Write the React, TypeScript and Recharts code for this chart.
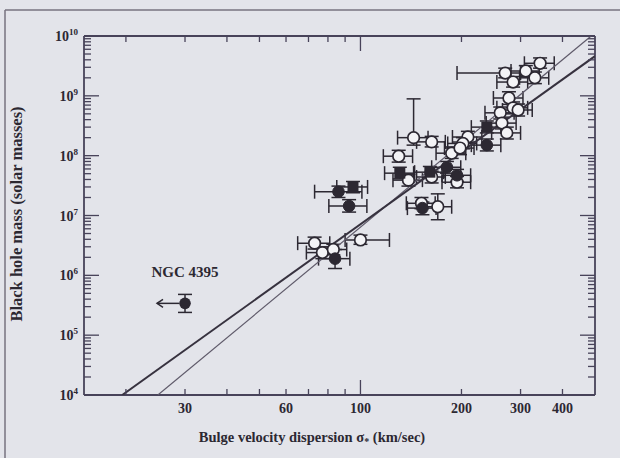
import React from 'react';
import { ScatterChart, Scatter, XAxis, YAxis, ErrorBar } from 'recharts';

// axis ticks
const xTicks = [20, 30, 40, 50, 60, 70, 80, 90, 100, 200, 300, 400];
const xTickLabels = [30, 60, 100, 200, 300, 400];
const yDecades = [1e4, 1e5, 1e6, 1e7, 1e8, 1e9, 1e10];
const yMinorSteps = [2, 3, 4, 5, 6, 7, 8, 9];

// open circles
const openSigma = [270, 311, 343, 285, 331, 277, 285, 295, 261, 264, 273, 209, 202, 144, 163, 130, 187, 198, 139, 163, 194, 152, 170, 73, 77, 83, 100];
const openMass = [2.4e9, 2.6e9, 3.5e9, 1.7e9, 2.0e9, 9.2e8, 6.3e8, 5.8e8, 5.2e8, 3.5e8, 2.4e8, 2.05e8, 1.6e8, 2.0e8, 1.7e8, 9.8e7, 1.1e8, 1.34e8, 3.9e7, 4.4e7, 3.6e7, 1.6e7, 1.4e7, 3.45e6, 2.4e6, 2.7e6, 3.9e6];
const openSigmaErr = [[76, 30], [30, 30], [35, 35], [30, 30], [33, 33], [28, 28], [30, 30], [30, 30], [26, 26], [27, 27], [27, 27], [21, 21], [20, 20], [15, 15], [16, 16], [13, 13], [19, 19], [20, 20], [14, 14], [16, 16], [19, 19], [15, 15], [17, 17], [8, 8], [8, 8], [8, 8], [10, 22]];
const openMassErr = [[4e8, 5e8], [5e8, 6e8], [6e8, 8e8], [3e8, 4e8], [4e8, 5e8], [2e8, 2.5e8], [1.3e8, 1.6e8], [1.2e8, 1.5e8], [1.1e8, 1.3e8], [7e7, 9e7], [5e7, 6e7], [4e7, 5e7], [3e7, 4e7], [5e7, 6.9e8], [3e7, 4e7], [2e7, 2.5e7], [2e7, 3e7], [3e7, 3.5e7], [8e6, 1e7], [9e6, 1.1e7], [7e6, 9e6], [3e6, 4e6], [5.5e6, 9e6], [7e5, 9e5], [5e5, 6e5], [5e5, 6e5], [6e5, 8e5]];

// filled circles
const filledSigma = [238, 181, 194, 86, 92.5, 153, 84];
const filledMass = [1.5e8, 6.4e7, 4.7e7, 2.5e7, 1.44e7, 1.33e7, 1.9e6];
const filledSigmaErr = [[24, 24], [18, 18], [19, 19], [13, 15], [12, 12], [15, 15], [9, 9]];
const filledMassErr = [[3e7, 4e7], [1.3e7, 1.6e7], [1e7, 1.2e7], [5e6, 6e6], [3e6, 4e6], [3e6, 3.5e6], [6e5, 8e5]];

// filled squares
const squareSigma = [238, 131, 161, 95];
const squareMass = [3.0e8, 5.1e7, 5.3e7, 3.0e7];
const squareSigmaErr = [[24, 24], [13, 13], [16, 16], [10, 10]];
const squareMassErr = [[6e7, 8e7], [1e7, 1.3e7], [1e7, 1.3e7], [6e6, 7e6]];

// NGC 4395 (upper limit in sigma)
const ngcSigma = [30];
const ngcMass = [3.4e5];
const ngcMassErr = [[1e5, 1.4e5]];

// fitted relations, end points
const lineASigma = [19.5, 500];
const lineAMass = [1e4, 4.6e9];
const lineBSigma = [24.9, 487];
const lineBMass = [1e4, 1e10];

const INK = '#2c2832';
const AXIS = '#48435a';
const FONT = '"Liberation Serif", "Times New Roman", serif';

const toPoints = (s: number[], m: number[], sx?: number[][], my?: number[][]) =>
  s.map((v, i) => ({ sigma: v, mass: m[i], ex: sx ? sx[i] : 0, ey: my ? my[i] : 0 }));

const openData = toPoints(openSigma, openMass, openSigmaErr, openMassErr);
const filledData = toPoints(filledSigma, filledMass, filledSigmaErr, filledMassErr);
const squareData = toPoints(squareSigma, squareMass, squareSigmaErr, squareMassErr);
const ngcData = toPoints(ngcSigma, ngcMass, undefined, ngcMassErr);
const lineAData = toPoints(lineASigma, lineAMass);
const lineBData = toPoints(lineBSigma, lineBMass);

const yTicks = yDecades.flatMap((d) => (d === 1e10 ? [d] : [d, ...yMinorSteps.map((m) => m * d)]));

const isDecade = (v: number) => Math.abs(Math.log10(v) - Math.round(Math.log10(v))) < 1e-6;

const BottomTick = ({ x, y, payload }: any) => {
  const v = payload.value;
  const len = v === 100 ? 15 : 6;
  return (
    <g>
      <line x1={x} x2={x} y1={y} y2={y - len} stroke={AXIS} strokeWidth={1.3} />
      {xTickLabels.includes(v) && (
        <text x={x} y={y + 18} textAnchor="middle" fontFamily={FONT} fontWeight={700} fontSize={14} fill={INK}>
          {v}
        </text>
      )}
    </g>
  );
};

const TopTick = ({ x, y, payload }: any) => {
  const len = payload.value === 100 ? 15 : 6;
  return <line x1={x} x2={x} y1={y} y2={y + len} stroke={AXIS} strokeWidth={1.3} />;
};

const LeftTick = ({ x, y, payload }: any) => {
  const v = payload.value;
  const major = isDecade(v);
  return (
    <g>
      <line x1={x} x2={x + (major ? 15 : 7)} y1={y} y2={y} stroke={AXIS} strokeWidth={1.3} />
      {major && (
        <text x={x - 6} y={y + 5} textAnchor="end" fontFamily={FONT} fontWeight={700} fontSize={14} fill={INK}>
          <tspan>10</tspan>
          <tspan dy={-6} fontSize={9}>{Math.round(Math.log10(v))}</tspan>
        </text>
      )}
    </g>
  );
};

const RightTick = ({ x, y, payload }: any) => {
  const len = isDecade(payload.value) ? 15 : 7;
  return <line x1={x} x2={x - len} y1={y} y2={y} stroke={AXIS} strokeWidth={1.3} />;
};

const OpenDot = ({ cx, cy }: any) => (
  <circle cx={cx} cy={cy} r={5.8} fill="#f3f3f6" stroke={INK} strokeWidth={1.7} />
);
const FilledDot = ({ cx, cy }: any) => <circle cx={cx} cy={cy} r={5.8} fill={INK} stroke={INK} />;
const SquareDot = ({ cx, cy }: any) => <rect x={cx - 5.5} y={cy - 5.5} width={11} height={11} fill={INK} />;
const NoDot = () => <g />;

const NgcDot = ({ cx, cy }: any) => (
  <g>
    <line x1={cx - 6} x2={cx - 28} y1={cy} y2={cy} stroke={INK} strokeWidth={1.5} />
    <path d={`M${cx - 22},${cy - 4} L${cx - 28},${cy} L${cx - 22},${cy + 4}`} fill="none" stroke={INK} strokeWidth={1.5} />
    <circle cx={cx} cy={cy} r={5.8} fill={INK} />
    <text x={cx} y={cy - 26} textAnchor="middle" fontFamily={FONT} fontWeight={700} fontSize={15} fill={INK}>
      NGC 4395
    </text>
  </g>
);

const barProps = { stroke: INK, strokeWidth: 1.5, width: 7 };

const App = () => (
  <div style={{ position: 'absolute', left: 0, top: 0, width: 620, height: 458, background: '#e3e4ea', overflow: 'hidden' }}>
    <ScatterChart width={620} height={458} margin={{ top: 26, right: 0, bottom: 23, left: 24 }}>
      <XAxis
        dataKey="sigma" type="number" scale="log" domain={[15, 500]} allowDataOverflow
        ticks={xTicks} interval={0} tick={BottomTick} tickLine={false} tickSize={0} tickMargin={0}
        axisLine={{ stroke: AXIS, strokeWidth: 1.8 }} height={40}
      />
      <XAxis
        xAxisId="top" orientation="top" dataKey="sigma" type="number" scale="log" domain={[15, 500]} allowDataOverflow
        ticks={xTicks} interval={0} tick={TopTick} tickLine={false} tickSize={0} tickMargin={0}
        axisLine={{ stroke: AXIS, strokeWidth: 1.8 }} height={10}
      />
      <YAxis
        dataKey="mass" type="number" scale="log" domain={[1e4, 1e10]} allowDataOverflow
        ticks={yTicks} interval={0} tick={LeftTick} tickLine={false} tickSize={0} tickMargin={0}
        axisLine={{ stroke: AXIS, strokeWidth: 1.8 }} width={60}
      />
      <YAxis
        yAxisId="right" orientation="right" dataKey="mass" type="number" scale="log" domain={[1e4, 1e10]} allowDataOverflow
        ticks={yTicks} interval={0} tick={RightTick} tickLine={false} tickSize={0} tickMargin={0}
        axisLine={{ stroke: AXIS, strokeWidth: 1.8 }} width={25}
      />
      <Scatter data={lineAData} xAxisId="top" yAxisId="right" shape={NoDot} isAnimationActive={false} />
      <Scatter data={lineBData} line={{ stroke: '#5f5a6a', strokeWidth: 1.2 }} shape={NoDot} isAnimationActive={false} />
      <Scatter data={lineAData} line={{ stroke: '#37323f', strokeWidth: 2 }} shape={NoDot} isAnimationActive={false} />
      <Scatter data={openData} shape={OpenDot} isAnimationActive={false}>
        <ErrorBar dataKey="ex" direction="x" {...barProps} />
        <ErrorBar dataKey="ey" direction="y" {...barProps} />
      </Scatter>
      <Scatter data={filledData} shape={FilledDot} isAnimationActive={false}>
        <ErrorBar dataKey="ex" direction="x" {...barProps} />
        <ErrorBar dataKey="ey" direction="y" {...barProps} />
      </Scatter>
      <Scatter data={squareData} shape={SquareDot} isAnimationActive={false}>
        <ErrorBar dataKey="ex" direction="x" {...barProps} />
        <ErrorBar dataKey="ey" direction="y" {...barProps} />
      </Scatter>
      <Scatter data={ngcData} shape={NgcDot} isAnimationActive={false}>
        <ErrorBar dataKey="ey" direction="y" {...barProps} />
      </Scatter>
    </ScatterChart>
    <svg width={620} height={458} style={{ position: 'absolute', left: 0, top: 0, pointerEvents: 'none' }}>
      <line x1={5} x2={5} y1={10} y2={458} stroke="#77737f" strokeWidth={1.5} />
      <line x1={5} x2={620} y1={10} y2={10} stroke="#77737f" strokeWidth={1.5} />
      <text
        transform="translate(22,214) rotate(-90)" textAnchor="middle"
        fontFamily={FONT} fontWeight={700} fontSize={16.5} fill={INK}
      >
        Black hole mass (solar masses)
      </text>
      <text x={312} y={442} textAnchor="middle" fontFamily={FONT} fontWeight={700} fontSize={14.5} fill={INK}>
        Bulge velocity dispersion σ<tspan dy={3} fontSize={10}>*</tspan><tspan dy={-3}> (km/sec)</tspan>
      </text>
    </svg>
  </div>
);

export default App;
